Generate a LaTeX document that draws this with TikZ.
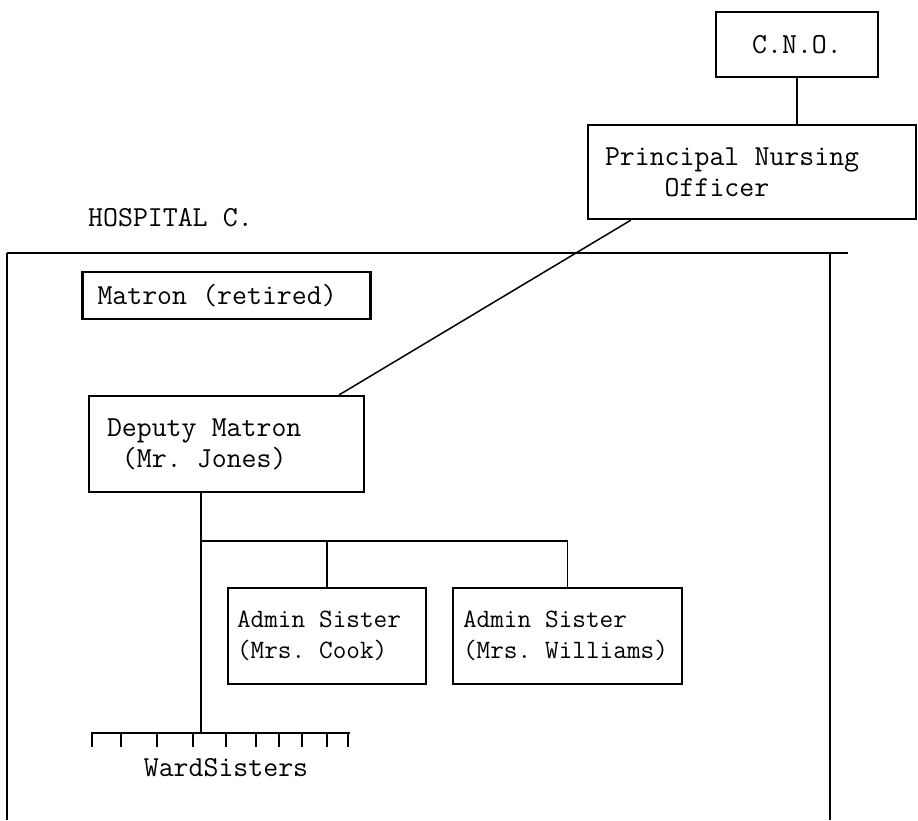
\documentclass[tikz,border=0pt]{standalone}
\usepackage{fontspec}
\usetikzlibrary{calc}
\newcommand\tsp{\hspace*{0.525em}}
\begin{document}
\begin{tikzpicture}[x=1pt,y=-1pt,
  txt/.style={font=\ttfamily\fontsize{29}{31}\selectfont},
  smalltxt/.style={font=\ttfamily\fontsize{26.5}{31}\selectfont},
  box/.style={draw,line width=2.2pt,txt,align=left,inner ysep=0pt},
  conn/.style={line width=1.5pt},
  heavy/.style={line width=2.3pt}]
\useasboundingbox (0,0) rectangle (918,820);
% top boxes
\node[box,minimum width=162pt,minimum height=65pt,text width=130pt,inner xsep=16pt,align=center] (cno) at (797,44.5) {C.N.O.};
\node[box,minimum width=328pt,minimum height=94pt,text width=294pt,inner xsep=17pt] (pno) at (752,172) {\mbox{Principal\tsp Nursing}\\\mbox{\phantom{xxxx}Officer}};
\draw[conn] (cno.south) -- (cno.south |- pno.north);
% hospital frame
\node[txt,anchor=west,inner sep=0pt] (hosp) at (88,218) {HOSPITAL\tsp C.};
\coordinate (ftl) at (7,253);
\coordinate (ftr) at (848,253);
\coordinate (frt) at (830,253);
\coordinate (fbl) at (7,820);
\coordinate (fbr) at (830,820);
\draw[heavy] (ftl) -- (ftr);
\draw[conn] (ftl) -- (fbl);
\draw[conn] (frt) -- (fbr);
% matron
\node[box,minimum width=273pt,minimum height=47pt,text width=258pt,inner xsep=15pt] (mat) at (226.5,295.5) {\mbox{Matron\tsp(retired)}};
% deputy
\node[box,minimum width=275pt,minimum height=96pt,text width=239pt,inner xsep=18pt] (dep) at (226.5,444) {\mbox{Deputy\tsp Matron}\\\mbox{\phantom{x}(Mr.\tsp Jones)}};
\draw[conn] ($(pno.south west)+(44,0)$) -- ($(dep.north east)+(-26,0)$);
% admin sisters
\node[box,smalltxt,minimum width=198pt,minimum height=96pt,text width=180pt,inner xsep=9pt] (cook) at (327,636) {\mbox{Admin\tsp Sister}\\\mbox{(Mrs.\tsp Cook)}};
\node[box,smalltxt,minimum width=229pt,minimum height=96pt,text width=209pt,inner xsep=10pt] (will) at (567.5,636) {\mbox{Admin\tsp Sister}\\\mbox{(Mrs.\tsp Williams)}};
% connectors
\coordinate (dv) at ($(dep.south west)+(113,0)$);
\coordinate (wl) at (91,733);
\coordinate (wr) at (350,733);
\coordinate (bl) at (dv |- 0,541);
\coordinate (brr) at (will.north |- 0,541);
\draw[conn] (dv) -- (dv |- wl);
\draw[heavy] (bl) -- (brr);
\draw[conn] (cook.north) -- (cook.north |- bl);
\draw[conn] (will.north) -- (will.north |- bl);
% ward sisters
\draw[heavy] (wl) -- (wr);
\foreach \x in {92,121,157,193,226,256,279,302,327,348}
  \draw[line width=1.3pt] (\x,733) -- (\x,747);
\node[txt,inner sep=0pt] (ward) at (226,768) {WardSisters};
\end{tikzpicture}
\end{document}
